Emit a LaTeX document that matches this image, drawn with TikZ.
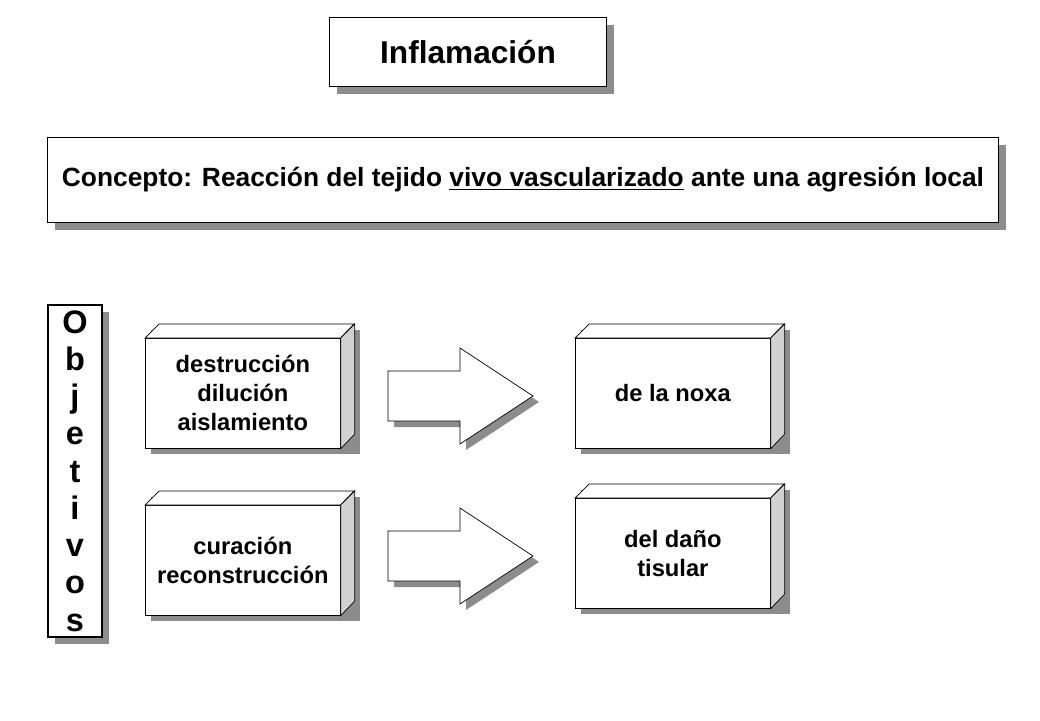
\documentclass[tikz,border=0pt]{standalone}
\usepackage{fontspec}
\setmainfont{Liberation Sans}
\usetikzlibrary{shadows}
\tikzset{
  flatbox/.style={draw,fill=white,thick,font=\bfseries,align=center,
    drop shadow={shadow xshift=4pt,shadow yshift=-4pt,fill=black!45,opacity=1}},
  side/.style={draw,fill=black!18,thin},
  top/.style={draw,fill=white,thin},
  shade/.style={fill=black!45},
}
\newcommand{\blockbox}[4]{% x0,y0 (front top-left), name, text
  \fill[shade] (#1+6,#2-8) rectangle (#1+215,#2+116);
  \node[draw,fill=white,minimum width=195*0.02cm,minimum height=110*0.02cm,
    anchor=north west,font=\bfseries\fontsize{13.5}{16.5}\selectfont,align=center,inner sep=0pt]
    (#3) at (#1,#2) {#4};
  \draw[top] (#3.north west) -- ++(14,-14) -- ++(195,0) -- (#3.north east) -- cycle;
  \draw[side] (#3.north east) -- ++(14,-14) -- ++(0,110) -- (#3.south east) -- cycle;
}
\newcommand{\bigarrow}[3]{% x0,ymid,name
  \fill[shade] (#1+6,#2-18) -- ++(72,0) -- ++(0,-23) -- ++(73,48) -- ++(-73,48) -- ++(0,-23) -- ++(-72,0) -- cycle;
  \draw[fill=white] (#1,#2-24) coordinate (#3) -- ++(72,0) -- ++(0,-23) -- ++(73,48) -- ++(-73,48) -- ++(0,-23) -- ++(-72,0) -- cycle;
}
\begin{document}
\begin{tikzpicture}[x=0.02cm,y=-0.02cm]
  \useasboundingbox (0,0) rectangle (1040,720);
  % Title
  \node[flatbox,minimum width=277*0.02cm,minimum height=69*0.02cm,
    font=\bfseries\fontsize{18}{21}\selectfont] (title) at (468,52) {Inflamación};
  % Concept
  \node[flatbox,minimum width=951*0.02cm,minimum height=85*0.02cm,
    font=\bfseries\fontsize{15}{18}\selectfont] (concept) at (523,180)
    {Concepto: Reacción del tejido \underline{vivo vascularizado} ante una agresión local};
  % Objetivos
  \node[flatbox,minimum width=54*0.02cm,minimum height=332*0.02cm,inner sep=0pt,
    font=\bfseries\fontsize{18.5}{21.2}\selectfont] (obj) at (75,471)
    {O\\b\\j\\e\\t\\i\\v\\o\\s};
  % Blocks
  \blockbox{145}{338}{destr}{destrucción\\dilución\\aislamiento}
  \blockbox{145}{505}{cura}{curación\\reconstrucción}
  \blockbox{575}{338}{noxa}{de la noxa}
  \blockbox{575}{498}{dano}{del daño\\tisular}
  % Arrows
  \bigarrow{388}{395}{arrA}
  \bigarrow{388}{555}{arrB}
\end{tikzpicture}
\end{document}
